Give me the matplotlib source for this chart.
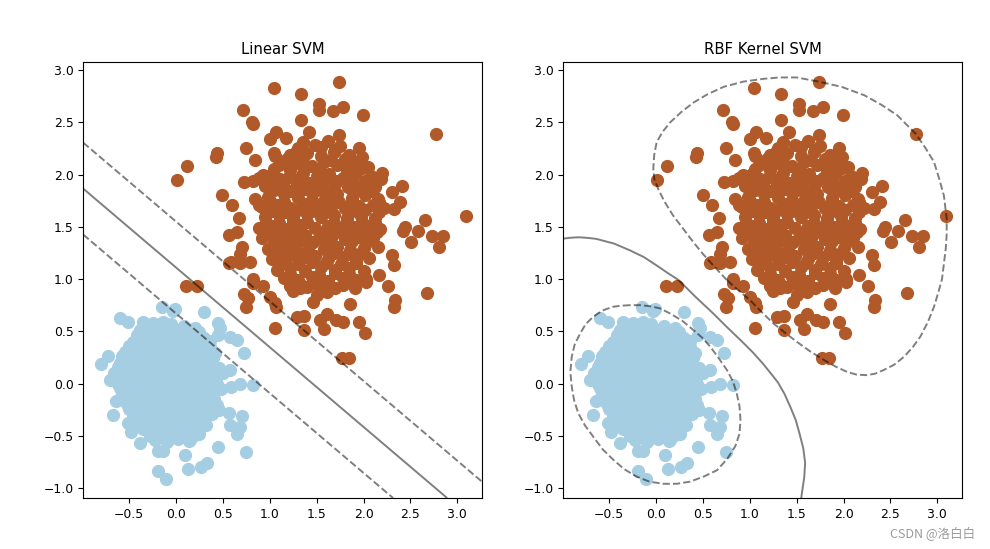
import numpy as np
import matplotlib
matplotlib.use("Agg")
import matplotlib.pyplot as plt

# class 1 (brown) - outer points
brown_outer = [
    (1.045, 2.83), (0.717, 2.62), (0.805, 2.50), (0.82, 2.48), (1.07, 2.41), (1.00, 2.34),
    (0.75, 2.25), (1.04, 2.21), (1.055, 2.18), (0.44, 2.21), (0.425, 2.17), (0.84, 2.14),
    (0.12, 2.08), (0.01, 1.95), (0.93, 2.00), (0.88, 1.97), (0.82, 1.94), (0.72, 1.93),
    (1.11, 1.96), (0.495, 1.80), (0.60, 1.71), (0.84, 1.77), (0.88, 1.705), (0.67, 1.58),
    (0.56, 1.42), (0.65, 1.45), (0.70, 1.31), (0.68, 1.24), (0.59, 1.16), (0.68, 1.15),
    (0.79, 1.16), (0.57, 1.15), (0.82, 1.00),
    (1.74, 2.885), (1.33, 2.77), (1.52, 2.68), (1.52, 2.62), (1.67, 2.61), (1.78, 2.65),
    (1.99, 2.57), (1.33, 2.52), (1.42, 2.41), (1.17, 2.35), (1.74, 2.38), (2.77, 2.39),
    (1.28, 2.22), (1.95, 2.25), (1.98, 2.17), (3.09, 1.60), (2.66, 1.57), (2.73, 1.41),
    (2.85, 1.41), (2.80, 1.31), (2.58, 1.46), (2.51, 1.35), (2.445, 1.50), (2.42, 1.46),
    (2.41, 1.89), (2.30, 1.83), (2.20, 2.02), (2.19, 1.96), (2.39, 1.74), (2.32, 1.67),
    (2.30, 1.23), (2.32, 1.13), (2.16, 1.035), (2.03, 1.00),
    (2.26, 0.93), (2.68, 0.87), (2.34, 0.80), (2.32, 0.735), (1.86, 0.76), (1.95, 0.59),
    (2.02, 0.486), (1.573, 0.52), (1.54, 0.61), (1.71, 0.61), (1.78, 0.59), (1.61, 0.67),
    (1.29, 0.64), (1.36, 0.646), (1.36, 0.51), (1.77, 0.24), (1.84, 0.24), (1.46, 0.78),
    (1.50, 0.85), (1.22, 0.93), (1.32, 0.91), (1.61, 0.96), (1.61, 0.88), (1.91, 0.91),
    (2.03, 0.974), (1.82, 0.974),
    (0.11, 0.93), (0.22, 0.93), (0.72, 0.86), (0.77, 0.815), (0.75, 0.735), (1.00, 0.83),
    (1.06, 0.77), (1.07, 0.735), (1.055, 0.53), (0.82, 0.96), (0.93, 0.93),
]

# class 1 (brown) - dense middle of the cluster
brown_core = [
    (1.35, 2.31), (1.48, 2.28), (1.62, 2.32), (1.75, 2.27),
    (1.22, 2.19), (1.40, 2.21), (1.55, 2.18), (1.68, 2.22), (1.85, 2.19),
    (1.10, 2.09), (1.30, 2.11), (1.45, 2.08), (1.58, 2.12), (1.72, 2.09), (1.90, 2.11), (2.05, 2.07),
    (1.02, 2.01), (1.20, 1.98), (1.35, 2.02), (1.50, 1.99), (1.63, 2.01), (1.78, 1.97), (1.92, 2.02), (2.08, 1.99),
    (0.95, 1.89), (1.12, 1.91), (1.28, 1.88), (1.42, 1.92), (1.55, 1.89), (1.70, 1.91), (1.83, 1.88), (1.98, 1.90), (2.12, 1.88),
    (0.98, 1.79), (1.15, 1.81), (1.30, 1.78), (1.45, 1.82), (1.60, 1.79), (1.72, 1.81), (1.88, 1.78), (2.02, 1.80), (2.15, 1.77),
    (0.92, 1.69), (1.08, 1.71), (1.22, 1.68), (1.38, 1.72), (1.52, 1.69), (1.66, 1.71), (1.80, 1.68), (1.95, 1.70), (2.10, 1.71), (2.22, 1.68),
    (0.95, 1.59), (1.10, 1.61), (1.25, 1.58), (1.40, 1.62), (1.55, 1.59), (1.68, 1.61), (1.82, 1.58), (1.97, 1.60), (2.12, 1.58),
    (0.88, 1.49), (1.02, 1.51), (1.18, 1.48), (1.32, 1.52), (1.48, 1.49), (1.62, 1.51), (1.75, 1.48), (1.90, 1.50), (2.05, 1.51), (2.18, 1.48),
    (0.92, 1.39), (1.08, 1.41), (1.22, 1.38), (1.38, 1.42), (1.52, 1.39), (1.66, 1.41), (1.80, 1.38), (1.95, 1.40), (2.10, 1.39),
    (0.98, 1.29), (1.12, 1.31), (1.28, 1.28), (1.42, 1.32), (1.58, 1.29), (1.72, 1.31), (1.86, 1.28), (2.00, 1.30), (2.15, 1.31),
    (1.02, 1.19), (1.18, 1.21), (1.32, 1.18), (1.48, 1.22), (1.62, 1.19), (1.78, 1.21), (1.92, 1.18), (2.06, 1.20),
    (1.08, 1.09), (1.22, 1.11), (1.38, 1.08), (1.55, 1.12), (1.70, 1.09), (1.85, 1.11), (2.00, 1.08),
    (1.15, 1.01), (1.30, 0.99), (1.45, 1.02), (1.62, 0.98), (1.78, 1.01), (1.92, 0.99),
    (1.25, 0.89), (1.40, 0.92), (1.55, 0.89), (1.70, 0.91),
    # second, offset layer
    (1.30, 2.25), (1.55, 2.26), (1.70, 2.24),
    (1.18, 2.15), (1.35, 2.16), (1.65, 2.14), (1.80, 2.15), (1.95, 2.13),
    (1.05, 2.05), (1.22, 2.04), (1.38, 2.06), (1.52, 2.05), (1.82, 2.04), (1.98, 2.06),
    (1.00, 1.95), (1.15, 1.94), (1.30, 1.96), (1.58, 1.95), (1.72, 1.94), (1.88, 1.96), (2.02, 1.94),
    (1.05, 1.85), (1.22, 1.84), (1.36, 1.86), (1.50, 1.85), (1.64, 1.84), (1.92, 1.85), (2.08, 1.84),
    (1.00, 1.75), (1.15, 1.74), (1.45, 1.76), (1.58, 1.75), (1.74, 1.74), (1.88, 1.76), (2.16, 1.74),
    (1.02, 1.65), (1.16, 1.64), (1.30, 1.66), (1.45, 1.65), (1.60, 1.64), (1.88, 1.65), (2.02, 1.66), (2.16, 1.64),
    (0.96, 1.55), (1.10, 1.54), (1.25, 1.56), (1.40, 1.55), (1.68, 1.54), (1.82, 1.56), (1.98, 1.55), (2.12, 1.54),
    (0.98, 1.45), (1.14, 1.44), (1.28, 1.46), (1.56, 1.44), (1.70, 1.45), (1.86, 1.46), (2.00, 1.44), (2.14, 1.45),
    (1.04, 1.35), (1.18, 1.34), (1.32, 1.36), (1.46, 1.35), (1.60, 1.34), (1.88, 1.36), (2.04, 1.35),
    (1.10, 1.25), (1.24, 1.24), (1.40, 1.26), (1.68, 1.25), (1.84, 1.24), (1.98, 1.26),
    (1.14, 1.15), (1.30, 1.14), (1.45, 1.16), (1.60, 1.15), (1.76, 1.14), (1.92, 1.15),
    (1.22, 1.05), (1.52, 1.04), (1.70, 1.06), (1.85, 1.05),
    (1.32, 0.95), (1.48, 0.96), (1.78, 0.94),
]

# class 0 (light blue) - outer points
blue_outer = [
    (-0.60, 0.63), (-0.51, 0.59), (-0.15, 0.735), (-0.014, 0.71), (-0.03, 0.69), (0.30, 0.68),
    (0.45, 0.576), (0.467, 0.53), (0.45, 0.46), (0.574, 0.45), (0.645, 0.42), (0.72, 0.295),
    (0.816, -0.014), (0.68, 0.0), (0.59, -0.03), (0.574, 0.13), (0.50, 0.10), (-0.80, 0.19),
    (-0.73, 0.26), (-0.71, 0.034), (-0.67, -0.30), (-0.57, -0.14), (-0.64, -0.17), (-0.51, -0.38),
    (-0.48, -0.46), (-0.39, -0.57), (-0.19, -0.65), (-0.14, -0.65), (-0.19, -0.84), (-0.11, -0.91),
    (0.093, -0.68), (0.13, -0.82), (0.27, -0.80), (0.33, -0.76), (0.45, -0.61), (0.75, -0.66),
    (0.567, -0.285), (0.70, -0.31), (0.574, -0.40), (0.68, -0.42), (0.645, -0.48), (0.25, -0.48),
    (0.146, -0.54), (-0.35, 0.59), (-0.25, 0.576), (-0.14, 0.59), (-0.39, 0.51), (0.075, 0.53),
    (0.146, 0.50), (0.36, 0.35), (0.38, 0.256), (0.41, 0.16), (0.40, -0.06), (0.40, -0.22),
]

# class 0 (light blue) - dense middle
blue_core = [
    (-0.30, 0.56), (-0.18, 0.54), (-0.05, 0.57), (0.08, 0.55), (0.20, 0.53),
    (-0.42, 0.46), (-0.30, 0.44), (-0.18, 0.47), (-0.06, 0.45), (0.06, 0.43), (0.18, 0.46), (0.30, 0.44),
    (-0.50, 0.36), (-0.38, 0.34), (-0.26, 0.37), (-0.14, 0.35), (-0.02, 0.33), (0.10, 0.36), (0.22, 0.34), (0.34, 0.36),
    (-0.58, 0.26), (-0.45, 0.24), (-0.33, 0.27), (-0.21, 0.25), (-0.09, 0.23), (0.03, 0.26), (0.15, 0.24), (0.27, 0.26), (0.39, 0.24),
    (-0.62, 0.16), (-0.50, 0.14), (-0.38, 0.17), (-0.26, 0.15), (-0.14, 0.13), (-0.02, 0.16), (0.10, 0.14), (0.22, 0.16), (0.34, 0.14), (0.46, 0.15),
    (-0.65, 0.06), (-0.53, 0.04), (-0.41, 0.07), (-0.29, 0.05), (-0.17, 0.03), (-0.05, 0.06), (0.07, 0.04), (0.19, 0.06), (0.31, 0.04), (0.43, 0.05),
    (-0.60, -0.04), (-0.48, -0.06), (-0.36, -0.03), (-0.24, -0.05), (-0.12, -0.07), (0.00, -0.04), (0.12, -0.06), (0.24, -0.04), (0.36, -0.06), (0.48, -0.05),
    (-0.55, -0.14), (-0.43, -0.16), (-0.31, -0.13), (-0.19, -0.15), (-0.07, -0.17), (0.05, -0.14), (0.17, -0.16), (0.29, -0.14), (0.41, -0.15),
    (-0.50, -0.24), (-0.38, -0.26), (-0.26, -0.23), (-0.14, -0.25), (-0.02, -0.27), (0.10, -0.24), (0.22, -0.26), (0.34, -0.24), (0.46, -0.25),
    (-0.42, -0.34), (-0.30, -0.36), (-0.18, -0.33), (-0.06, -0.35), (0.06, -0.37), (0.18, -0.34), (0.30, -0.36),
    (-0.35, -0.44), (-0.23, -0.46), (-0.11, -0.43), (0.01, -0.45), (0.13, -0.47), (0.25, -0.44),
    (-0.22, -0.54), (-0.10, -0.56), (0.02, -0.53), (0.14, -0.55),
    # second, offset layer
    (-0.36, 0.50), (-0.24, 0.51), (-0.12, 0.49), (0.00, 0.50), (0.12, 0.51), (0.24, 0.49),
    (-0.46, 0.40), (-0.34, 0.41), (-0.22, 0.39), (-0.10, 0.40), (0.02, 0.41), (0.14, 0.39), (0.26, 0.40), (0.36, 0.41),
    (-0.54, 0.30), (-0.42, 0.31), (-0.30, 0.29), (-0.18, 0.30), (-0.06, 0.31), (0.06, 0.29), (0.18, 0.30), (0.30, 0.31), (0.42, 0.29),
    (-0.60, 0.20), (-0.48, 0.21), (-0.36, 0.19), (-0.24, 0.20), (-0.12, 0.21), (0.00, 0.19), (0.12, 0.20), (0.24, 0.21), (0.36, 0.19),
    (-0.66, 0.10), (-0.56, 0.11), (-0.44, 0.09), (-0.32, 0.10), (-0.20, 0.11), (-0.08, 0.09), (0.04, 0.10), (0.16, 0.11), (0.28, 0.09), (0.40, 0.10),
    (-0.62, 0.00), (-0.52, 0.01), (-0.40, -0.01), (-0.28, 0.00), (-0.16, 0.01), (-0.04, -0.01), (0.08, 0.00), (0.20, 0.01), (0.32, -0.01), (0.44, 0.00),
    (-0.58, -0.10), (-0.46, -0.09), (-0.34, -0.11), (-0.22, -0.10), (-0.10, -0.09), (0.02, -0.11), (0.14, -0.10), (0.26, -0.09), (0.38, -0.11),
    (-0.52, -0.20), (-0.40, -0.19), (-0.28, -0.21), (-0.16, -0.20), (-0.04, -0.19), (0.08, -0.21), (0.20, -0.20), (0.32, -0.19), (0.44, -0.21),
    (-0.46, -0.30), (-0.34, -0.29), (-0.22, -0.31), (-0.10, -0.30), (0.02, -0.29), (0.14, -0.31), (0.26, -0.30), (0.38, -0.29),
    (-0.38, -0.40), (-0.26, -0.39), (-0.14, -0.41), (-0.02, -0.40), (0.10, -0.39), (0.22, -0.41), (0.32, -0.40),
    (-0.28, -0.50), (-0.16, -0.49), (-0.04, -0.51), (0.08, -0.50), (0.20, -0.49),
]

# linear SVM: decision function w[0]*x + w[1]*y + b
lin_w = [1.734, 2.273]
lin_b = -2.523

# RBF SVM contours
rbf_boundary = [
    (-1.05, 1.38), (-0.92, 1.395), (-0.83, 1.40), (-0.74, 1.395), (-0.64, 1.385), (-0.45, 1.34),
    (-0.28, 1.275), (-0.13, 1.21), (0.006, 1.13), (0.12, 1.06), (0.24, 0.99), (0.42, 0.83),
    (0.61, 0.67), (0.75, 0.545), (0.90, 0.416), (1.03, 0.30), (1.14, 0.19), (1.23, 0.09),
    (1.30, 0.01), (1.37, -0.10), (1.43, -0.22), (1.49, -0.35), (1.53, -0.48), (1.57, -0.62),
    (1.59, -0.76), (1.58, -0.90), (1.56, -1.02), (1.54, -1.15),
]
rbf_margin_blue = [
    (-0.28, 0.75), (-0.37, 0.745), (-0.457, 0.735), (-0.57, 0.70), (-0.67, 0.64), (-0.75, 0.57),
    (-0.81, 0.48), (-0.87, 0.37), (-0.90, 0.256), (-0.915, 0.11), (-0.90, -0.03), (-0.875, -0.16),
    (-0.83, -0.285), (-0.76, -0.40), (-0.67, -0.51), (-0.57, -0.63), (-0.457, -0.73), (-0.34, -0.82),
    (-0.21, -0.89), (-0.07, -0.94), (0.078, -0.96), (0.22, -0.96), (0.36, -0.94), (0.51, -0.89),
    (0.65, -0.83), (0.76, -0.72), (0.845, -0.60), (0.89, -0.48), (0.90, -0.35), (0.89, -0.22),
    (0.86, -0.094), (0.82, 0.02), (0.755, 0.13), (0.67, 0.24), (0.58, 0.35), (0.49, 0.44),
    (0.40, 0.51), (0.28, 0.60), (0.15, 0.67), (0.04, 0.72), (-0.065, 0.74), (-0.17, 0.75),
    (-0.28, 0.75),
]
rbf_margin_brown = [
    (0.755, 0.99), (0.61, 1.13), (0.50, 1.24), (0.40, 1.35), (0.29, 1.48), (0.18, 1.61),
    (0.09, 1.74), (0.024, 1.86), (-0.02, 1.96), (-0.03, 2.06), (-0.02, 2.19), (0.006, 2.31),
    (0.07, 2.41), (0.15, 2.50), (0.27, 2.60), (0.40, 2.69), (0.55, 2.77), (0.72, 2.84),
    (0.93, 2.89), (1.147, 2.917), (1.32, 2.93), (1.50, 2.93), (1.735, 2.89), (1.98, 2.84),
    (2.22, 2.76), (2.40, 2.67), (2.57, 2.57), (2.77, 2.39), (2.87, 2.26), (2.965, 2.12),
    (3.02, 1.96), (3.07, 1.80), (3.10, 1.58), (3.10, 1.43), (3.09, 1.29), (3.05, 1.00),
    (3.01, 0.87), (2.965, 0.735), (2.90, 0.59), (2.82, 0.45), (2.74, 0.35), (2.645, 0.256),
    (2.54, 0.18), (2.43, 0.13), (2.34, 0.095), (2.25, 0.08), (2.14, 0.085), (2.04, 0.11),
    (1.92, 0.16), (1.79, 0.225), (1.64, 0.31), (1.50, 0.40), (1.37, 0.49), (1.25, 0.576),
    (1.12, 0.69), (1.0, 0.80), (0.88, 0.89), (0.755, 0.99),
]

titles = ["Linear SVM", "RBF Kernel SVM"]
xlim = (-0.99, 3.26)
ylim = (-1.096, 3.077)

blue = np.array(blue_outer + blue_core)
brown = np.array(brown_outer + brown_core)
cmap = plt.cm.Paired

fig = plt.figure(figsize=(9.9, 5.49), dpi=100)
ax1 = fig.add_axes([0.0841, 0.0929, 0.4024, 0.794])
ax2 = fig.add_axes([0.569, 0.0929, 0.4024, 0.794])

for ax, title in zip([ax1, ax2], titles):
    ax.scatter(blue[:, 0], blue[:, 1], s=72, color=cmap(0))
    ax.scatter(brown[:, 0], brown[:, 1], s=72, color=cmap(11))
    ax.set_title(title, fontsize=10.7)
    ax.set_xlim(xlim)
    ax.set_ylim(ylim)
    ax.set_xticks([-0.5, 0.0, 0.5, 1.0, 1.5, 2.0, 2.5, 3.0])
    ax.set_yticks([-1.0, -0.5, 0.0, 0.5, 1.0, 1.5, 2.0, 2.5, 3.0])
    ax.tick_params(labelsize=8.9)

# linear decision function and margins
xx, yy = np.meshgrid(np.linspace(xlim[0], xlim[1], 300), np.linspace(ylim[0], ylim[1], 300))
zz = lin_w[0] * xx + lin_w[1] * yy + lin_b
ax1.contour(xx, yy, zz, levels=[-1, 0, 1], colors='k', alpha=0.5,
            linestyles=['--', '-', '--'], linewidths=1.4)

# rbf decision boundary and margins
bx, by = zip(*rbf_boundary)
ax2.plot(bx, by, color='k', alpha=0.5, lw=1.4, ls='-')
for m in [rbf_margin_blue, rbf_margin_brown]:
    mx, my = zip(*m)
    ax2.plot(mx, my, color='k', alpha=0.5, lw=1.4, ls='--')
ax2.set_xlim(xlim)
ax2.set_ylim(ylim)

fig.text(0.985, 0.029, 'CSDN @洛白白', ha='right', va='center', fontsize=9,
         color='#9a9a9a', family=['Noto Sans CJK SC', 'DejaVu Sans'])

fig.savefig('out.png', dpi=100)
